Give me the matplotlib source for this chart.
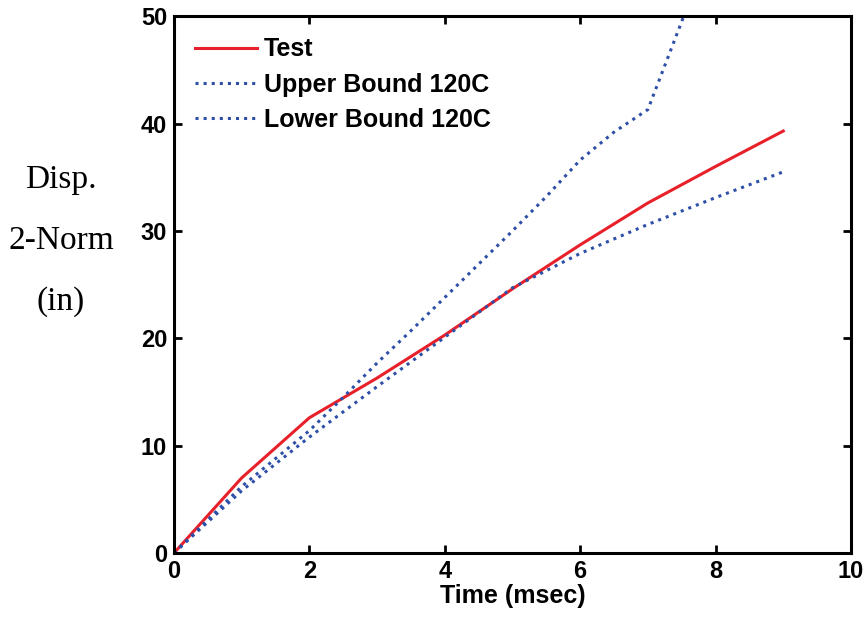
import matplotlib.pyplot as plt
import numpy as np

# data
t_test = [0, 1, 2, 3, 4, 5, 6, 7, 8, 9]
test = [0, 7.0, 12.6, 16.3, 20.3, 24.6, 28.7, 32.6, 36.0, 39.3]

t_upper = [0, 0.5, 1, 1.5, 2, 2.5, 3, 3.5, 4, 4.5, 5, 5.5, 6, 6.5, 7, 8]
upper = [0, 3.1, 6.2, 8.8, 11.4, 14.5, 17.7, 20.7, 23.8, 26.9, 30.0, 33.2, 36.6, 39.2, 41.3, 57.7]

t_lower = [0, 1, 2, 3, 4, 5, 6, 7, 8, 9]
lower = [0, 5.8, 10.8, 15.5, 20.1, 24.7, 27.9, 30.6, 33.1, 35.5]

plt.rcParams['font.family'] = ['Liberation Sans', 'DejaVu Sans']
plt.rcParams['font.weight'] = 'bold'

fig = plt.figure(figsize=(8.67, 6.2), dpi=100)
ax = fig.add_axes([0.2007, 0.108, 0.7808, 0.866])

red = '#E8202A'
blue = '#2E4FA8'
ax.plot(t_test, test, '-', color=red, lw=2.2, label='Test')
ax.plot(t_upper, upper, ':', color=blue, lw=2.2, label='Upper Bound 120C')
ax.plot(t_lower, lower, ':', color=blue, lw=2.2, label='Lower Bound 120C')

ax.set_xlim(0, 10)
ax.set_ylim(0, 50)
ax.set_xticks([0, 2, 4, 6, 8, 10])
ax.set_yticks([0, 10, 20, 30, 40, 50])
ax.tick_params(direction='in', length=6, width=2, labelsize=17, top=True, right=True, pad=5)
for s in ax.spines.values():
    s.set_linewidth(2.2)

ax.set_xlabel('Time (msec)', fontsize=18, fontweight='bold', labelpad=1)
ax.set_ylabel('Disp.\n2-Norm\n(in)', fontsize=24, fontweight='normal', family='Liberation Serif',
              rotation=0, linespacing=2.3, va='center', ha='center')
ax.yaxis.set_label_coords(-0.167, 0.582)

leg = ax.legend(loc='upper left', frameon=False, fontsize=18, handlelength=2.45,
                handletextpad=0.3, labelspacing=0.45, borderaxespad=0.45,
                bbox_to_anchor=(0.0, 1.0))

fig.savefig('out.png', dpi=100)
